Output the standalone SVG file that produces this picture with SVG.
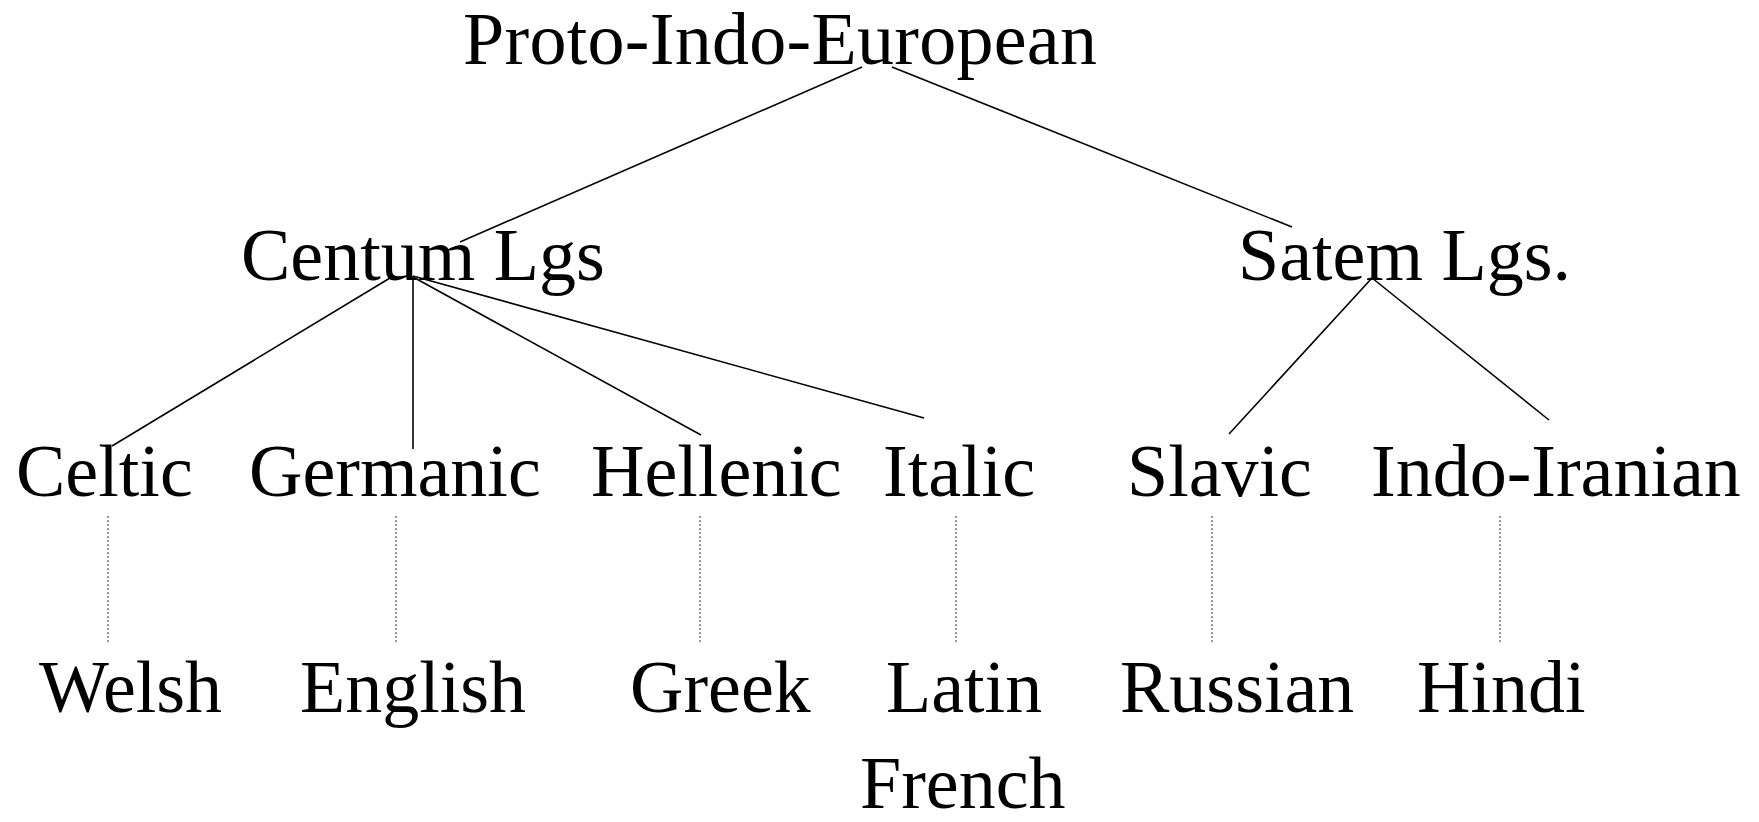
<svg xmlns="http://www.w3.org/2000/svg" width="1759" height="822" viewBox="0 0 1759 822">
<style>
text{font-family:"Liberation Serif","Times New Roman",serif;font-size:74px;fill:#000}
.e{stroke:#000;stroke-width:1.6;fill:none}
.d{stroke:#333;stroke-width:1;stroke-dasharray:2,2;fill:none}
</style>
<rect width="1759" height="822" fill="#fff"/>
<g id="connectors">
<line class="e" x1="862" y1="67" x2="460" y2="242"/>
<line class="e" x1="892" y1="67" x2="1292" y2="227"/>
<line class="e" x1="390" y1="278" x2="112" y2="446"/>
<line class="e" x1="413" y1="276" x2="413" y2="449"/>
<line class="e" x1="413" y1="277" x2="701" y2="435"/>
<line class="e" x1="413" y1="276" x2="924" y2="418"/>
<line class="e" x1="1372" y1="278" x2="1229" y2="434"/>
<line class="e" x1="1372" y1="278" x2="1549" y2="420"/>
<line class="d" x1="108" y1="516" x2="108" y2="643"/>
<line class="d" x1="396" y1="516" x2="396" y2="643"/>
<line class="d" x1="700" y1="516" x2="700" y2="643"/>
<line class="d" x1="956" y1="516" x2="956" y2="643"/>
<line class="d" x1="1212" y1="516" x2="1212" y2="643"/>
<line class="d" x1="1500" y1="516" x2="1500" y2="643"/>
</g>
<g id="pie"><text x="463" y="64" textLength="634">Proto-Indo-European</text></g>
<g id="centum"><text x="241" y="280">Centum Lgs</text></g>
<g id="satem"><text x="1238" y="280">Satem Lgs.</text></g>
<g id="celtic"><text x="16" y="496">Celtic</text></g>
<g id="germanic"><text x="249" y="496">Germanic</text></g>
<g id="hellenic"><text x="591" y="496">Hellenic</text></g>
<g id="italic"><text x="883" y="496">Italic</text></g>
<g id="slavic"><text x="1127" y="496">Slavic</text></g>
<g id="indoiranian"><text x="1371" y="496">Indo-Iranian</text></g>
<g id="welsh"><text x="39" y="712">Welsh</text></g>
<g id="english"><text x="300" y="712">English</text></g>
<g id="greek"><text x="630" y="712">Greek</text></g>
<g id="latin"><text x="886" y="712">Latin</text></g>
<g id="russian"><text x="1120" y="712">Russian</text></g>
<g id="hindi"><text x="1417" y="712">Hindi</text></g>
<g id="french"><text x="860" y="808">French</text></g>
</svg>
